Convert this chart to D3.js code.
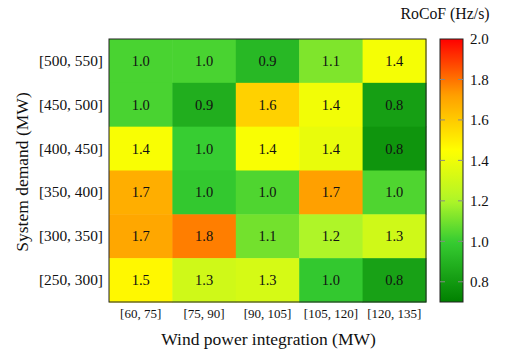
<!DOCTYPE html>
<html>
<head>
<meta charset="utf-8">
<script src="https://cdn.jsdelivr.net/npm/d3@7"></script>
<style>
  html, body { margin: 0; padding: 0; background: #fff; }
</style>
</head>
<body>
<svg id="chart" width="505" height="351"></svg>
<script>
// Wind power integration bins (columns) and system demand bins (rows, top to bottom)
const windBins = ["[60, 75]", "[75, 90]", "[90, 105]", "[105, 120]", "[120, 135]"];
const demandBins = ["[500, 550]", "[450, 500]", "[400, 450]", "[350, 400]", "[300, 350]", "[250, 300]"];

// RoCoF (Hz/s) per demand row, one value per wind bin
const rocof500 = [1.03, 1.03, 0.92, 1.12, 1.42];
const rocof450 = [1.03, 0.88, 1.58, 1.41, 0.82];
const rocof400 = [1.43, 1.00, 1.43, 1.38, 0.78];
const rocof350 = [1.68, 0.98, 1.04, 1.72, 1.04];
const rocof300 = [1.70, 1.78, 1.10, 1.20, 1.30];
const rocof250 = [1.47, 1.30, 1.32, 0.98, 0.83];
const rocofRows = [rocof500, rocof450, rocof400, rocof350, rocof300, rocof250];

// Colour bar range and ticks
const colorDomain = [0.7, 2.0];
const colorTicks = [0.8, 1.0, 1.2, 1.4, 1.6, 1.8, 2.0];

// Green -> yellow -> red colour map
const mapStops = [0.7, 1.0, 1.2, 1.45, 1.72, 2.0];
const mapColors = ["rgb(0,128,0)", "rgb(55,205,50)", "rgb(175,245,40)", "rgb(255,255,0)", "rgb(255,160,0)", "rgb(255,0,0)"];

const SERIF = "'Liberation Serif', 'DejaVu Serif', serif";

const cells = [];
rocofRows.forEach((row, r) => row.forEach((v, c) => cells.push({ row: demandBins[r], col: windBins[c], value: v })));

const svg = d3.select("#chart");
const plot = { left: 109, top: 39, right: 426, bottom: 302 };

const x = d3.scaleBand().domain(windBins).range([plot.left, plot.right]);
const y = d3.scaleBand().domain(demandBins).range([plot.top, plot.bottom]);
const color = d3.scaleLinear().domain(mapStops).range(mapColors).interpolate(d3.interpolateRgb).clamp(true);

// Heatmap cells
svg.append("g").selectAll("rect").data(cells).join("rect")
  .attr("x", d => x(d.col))
  .attr("y", d => y(d.row))
  .attr("width", x.bandwidth() + 0.5)
  .attr("height", y.bandwidth() + 0.5)
  .attr("fill", d => color(d.value));

// Value labels
svg.append("g").selectAll("text").data(cells).join("text")
  .attr("x", d => x(d.col) + x.bandwidth() / 2)
  .attr("y", d => y(d.row) + y.bandwidth() / 2)
  .attr("text-anchor", "middle")
  .attr("dominant-baseline", "central")
  .style("font-size", "14.5px")
  .text(d => d.value.toFixed(1));

// Plot frame
svg.append("rect")
  .attr("x", plot.left).attr("y", plot.top)
  .attr("width", plot.right - plot.left).attr("height", plot.bottom - plot.top)
  .attr("fill", "none").attr("stroke", "#222").attr("stroke-width", 1);

// Axes
const xAxis = svg.append("g")
  .attr("transform", `translate(0,${plot.bottom})`)
  .call(d3.axisBottom(x).tickSize(0).tickPadding(7));
xAxis.select(".domain").remove();
xAxis.selectAll("text").style("font-size", "13px");

const yAxis = svg.append("g")
  .attr("transform", `translate(${plot.left},0)`)
  .call(d3.axisLeft(y).tickSize(0).tickPadding(6));
yAxis.select(".domain").remove();
yAxis.selectAll("text").style("font-size", "15.4px");

// Axis titles
svg.append("text")
  .attr("x", (plot.left + plot.right) / 2 + 1)
  .attr("y", 345)
  .attr("text-anchor", "middle")
  .style("font-size", "17.5px")
  .text("Wind power integration (MW)");

svg.append("text")
  .attr("transform", `translate(28,172) rotate(-90)`)
  .attr("text-anchor", "middle")
  .style("font-size", "17.5px")
  .text("System demand (MW)");

// Colour bar
const bar = { left: 440, right: 463, top: 39, bottom: 302 };
const cScale = d3.scaleLinear().domain(colorDomain).range([bar.bottom, bar.top]);

const defs = svg.append("defs");
const grad = defs.append("linearGradient").attr("id", "rocofGrad")
  .attr("x1", 0).attr("y1", 1).attr("x2", 0).attr("y2", 0);
d3.range(0, 1.0001, 0.02).forEach(t => {
  const v = colorDomain[0] + t * (colorDomain[1] - colorDomain[0]);
  grad.append("stop").attr("offset", t).attr("stop-color", color(v));
});

svg.append("rect")
  .attr("x", bar.left).attr("y", bar.top)
  .attr("width", bar.right - bar.left).attr("height", bar.bottom - bar.top)
  .attr("fill", "url(#rocofGrad)")
  .attr("stroke", "#222").attr("stroke-width", 1);

// Tick marks on both inner edges of the colour bar
const tickG = svg.append("g").selectAll("g").data(colorTicks.filter(t => t < 2.0)).join("g");
tickG.append("line")
  .attr("x1", bar.left).attr("x2", bar.left + 5)
  .attr("y1", d => cScale(d)).attr("y2", d => cScale(d))
  .attr("stroke", "#888").attr("stroke-width", 1);
tickG.append("line")
  .attr("x1", bar.right - 5).attr("x2", bar.right)
  .attr("y1", d => cScale(d)).attr("y2", d => cScale(d))
  .attr("stroke", "#888").attr("stroke-width", 1);

const cAxis = svg.append("g")
  .attr("transform", `translate(${bar.right},0)`)
  .call(d3.axisRight(cScale).tickValues(colorTicks).tickFormat(d3.format(".1f")).tickSize(0).tickPadding(7));
cAxis.select(".domain").remove();
cAxis.selectAll("text").style("font-size", "15px");

svg.append("text")
  .attr("x", 445)
  .attr("y", 19)
  .attr("text-anchor", "middle")
  .style("font-size", "15.8px")
  .text("RoCoF (Hz/s)");

// Serif typeface and dark text for every label
svg.selectAll("text")
  .style("font-family", SERIF)
  .style("fill", "#111");
</script>
</body>
</html>
